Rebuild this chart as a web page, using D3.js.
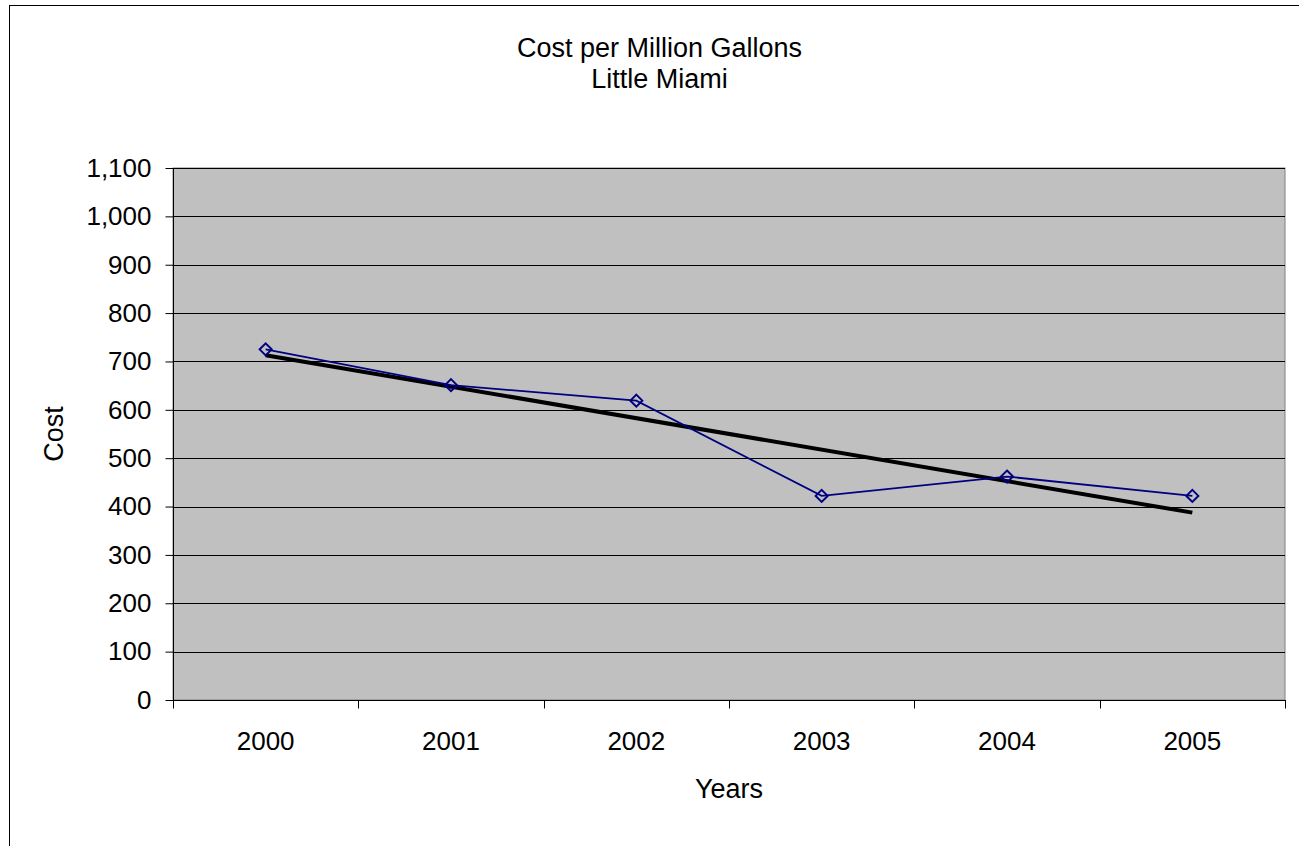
<!DOCTYPE html>
<html>
<head>
<meta charset="utf-8">
<script src="https://cdn.jsdelivr.net/npm/d3@7"></script>
<style>
  html, body { margin: 0; padding: 0; background: #fff; }
  svg { display: block; }
  text { font-family: "Liberation Sans", Arial, sans-serif; fill: #000; }
</style>
</head>
<body>
<svg id="chart" width="1299" height="846"></svg>
<script>
// Cost per million gallons, Little Miami plant
const years = ["2000", "2001", "2002", "2003", "2004", "2005"];
const costs = [725, 651, 619, 422, 462, 422];
const yTicks = [0, 100, 200, 300, 400, 500, 600, 700, 800, 900, 1000, 1100];
const titleLines = ["Cost per Million Gallons", "Little Miami"];

const svg = d3.select("#chart");
const plot = { left: 173, top: 168, right: 1285, bottom: 700 };
const frame = { left: 9.5, top: 5.5, width: 1300, height: 870 };
const frameCx = frame.left + frame.width / 2;

// outer chart frame
svg.append("rect")
  .attr("x", frame.left).attr("y", frame.top)
  .attr("width", frame.width).attr("height", frame.height)
  .attr("fill", "#fff").attr("stroke", "#000").attr("stroke-width", 1);

const x = d3.scaleBand().domain(years).range([plot.left, plot.right]).padding(0);
const y = d3.scaleLinear().domain([0, 1100]).range([plot.bottom, plot.top]);

// plot area
svg.append("rect")
  .attr("x", plot.left).attr("y", plot.top)
  .attr("width", plot.right - plot.left).attr("height", plot.bottom - plot.top)
  .attr("fill", "#c0c0c0").attr("stroke", "#808080").attr("stroke-width", 1);

// horizontal gridlines
svg.append("g").selectAll("line").data(yTicks.filter(d => d > 0)).join("line")
  .attr("x1", plot.left).attr("x2", plot.right)
  .attr("y1", d => Math.round(y(d)) + 0.5).attr("y2", d => Math.round(y(d)) + 0.5)
  .attr("stroke", "#000").attr("stroke-width", 1);

// y axis
const yAxis = svg.append("g")
  .attr("transform", `translate(${plot.left + 0.5},0)`)
  .call(d3.axisLeft(y).tickValues(yTicks).tickSize(8).tickPadding(14)
    .tickFormat(d3.format(",")));
yAxis.selectAll("text").style("font-size", "26px")
  .style("font-family", "'Liberation Sans', Arial, sans-serif");
yAxis.select(".domain").attr("d", `M0,${plot.top}V${plot.bottom}`);
yAxis.selectAll(".tick line").attr("stroke", "#000");

// x axis with ticks at category boundaries
const xAxisG = svg.append("g").attr("transform", `translate(0,${plot.bottom + 0.5})`);
xAxisG.append("line")
  .attr("x1", plot.left).attr("x2", plot.right + 1)
  .attr("stroke", "#000").attr("stroke-width", 1);
const bounds = years.map(d => x(d)).concat([x(years[years.length - 1]) + x.bandwidth()]);
xAxisG.selectAll("line.tick").data(bounds).join("line").attr("class", "tick")
  .attr("x1", d => Math.round(d) + 0.5).attr("x2", d => Math.round(d) + 0.5)
  .attr("y1", 0).attr("y2", 8).attr("stroke", "#000");
xAxisG.selectAll("text").data(years).join("text")
  .attr("x", d => x(d) + x.bandwidth() / 2).attr("y", 49)
  .attr("text-anchor", "middle").style("font-size", "26px")
  .text(d => d);

// data series
const cx = d => x(d) + x.bandwidth() / 2;
const pts = years.map((d, i) => [cx(d), y(costs[i])]);

// linear trendline (least squares)
const n = costs.length;
const mx = d3.mean(costs, (d, i) => i), my = d3.mean(costs);
const slope = d3.sum(costs, (d, i) => (i - mx) * (d - my)) / d3.sum(costs, (d, i) => (i - mx) ** 2);
const icpt = my - slope * mx;
svg.append("line")
  .attr("x1", cx(years[0])).attr("y1", y(icpt))
  .attr("x2", cx(years[n - 1])).attr("y2", y(icpt + slope * (n - 1)))
  .attr("stroke", "#000").attr("stroke-width", 4);

svg.append("path")
  .attr("d", d3.line()(pts))
  .attr("fill", "none").attr("stroke", "#000080").attr("stroke-width", 1.8);

svg.append("g").selectAll("path").data(pts).join("path")
  .attr("transform", d => `translate(${d[0]},${d[1]})`)
  .attr("d", "M0,-6L6,0L0,6L-6,0Z")
  .attr("fill", "none").attr("stroke", "#000080").attr("stroke-width", 2);

// titles
svg.append("g").selectAll("text").data(titleLines).join("text")
  .attr("x", frameCx).attr("y", (d, i) => 57 + i * 31)
  .attr("text-anchor", "middle").style("font-size", "27px")
  .text(d => d);

svg.append("text")
  .attr("transform", `translate(63,${(plot.top + plot.bottom) / 2}) rotate(-90)`)
  .attr("text-anchor", "middle").style("font-size", "27px").text("Cost");

svg.append("text")
  .attr("x", (plot.left + plot.right) / 2).attr("y", 798)
  .attr("text-anchor", "middle").style("font-size", "27px").text("Years");
</script>
</body>
</html>
